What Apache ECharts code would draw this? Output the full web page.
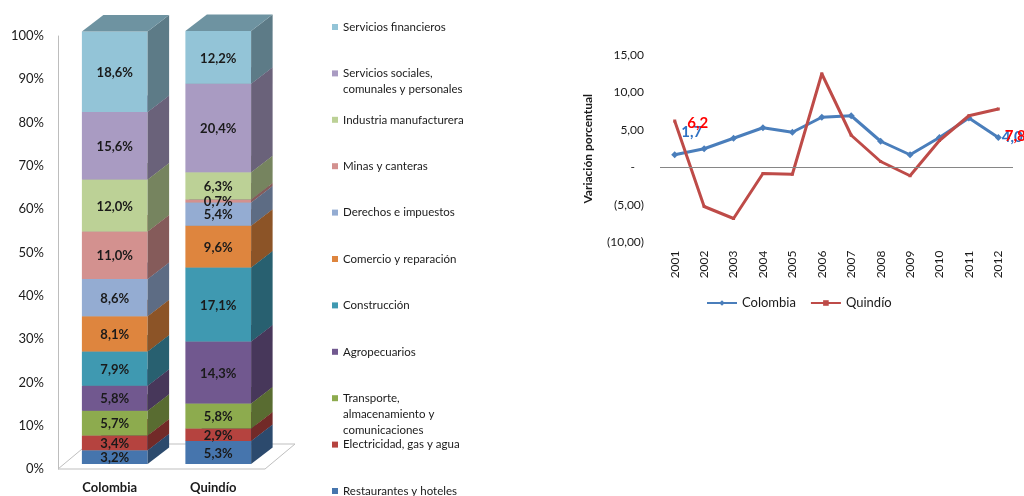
<!DOCTYPE html>
<html>
<head>
<meta charset="utf-8">
<script src="https://cdn.jsdelivr.net/npm/echarts@6/dist/echarts.min.js"></script>
<style>
  html, body { margin: 0; padding: 0; background: #ffffff; }
  #chart { width: 1024px; height: 496px; }
</style>
</head>
<body>
<div id="chart"></div>
<script>
// ---- Data -------------------------------------------------------------
const regions = ['Colombia', 'Quindío'];

// Sectors, listed from the bottom of each stack to the top
const sectors = [
  'Restaurantes y hoteles',
  'Electricidad, gas y agua',
  'Transporte, almacenamiento y comunicaciones',
  'Agropecuarios',
  'Construcción',
  'Comercio y reparación',
  'Derechos e impuestos',
  'Minas y canteras',
  'Industria manufacturera',
  'Servicios sociales, comunales y personales',
  'Servicios financieros'
];
const shareColombia = [3.2, 3.4, 5.7, 5.8, 7.9, 8.1, 8.6, 11.0, 12.0, 15.6, 18.6];
const shareQuindio  = [5.3, 2.9, 5.8, 14.3, 17.1, 9.6, 5.4, 0.7, 6.3, 20.4, 12.2];

const years = ['2001', '2002', '2003', '2004', '2005', '2006',
               '2007', '2008', '2009', '2010', '2011', '2012'];
const growthColombia = [1.7, 2.5, 3.9, 5.3, 4.7, 6.7, 6.9, 3.5, 1.7, 4.0, 6.6, 4.0];
const growthQuindio  = [6.2, -5.2, -6.8, -0.8, -0.9, 12.5, 4.3, 0.8, -1.1, 3.6, 6.9, 7.8];

// ---- Presentation -----------------------------------------------------
const FONT = 'Lato, "Liberation Sans", sans-serif';
const TEXT = '#1a1a1a';
const sectorColors = ['#4675ad', '#b5433f', '#8dab4e', '#71588f', '#3f99b1', '#de853e',
                      '#94acd2', '#d3918f', '#bcd196', '#a99bc2', '#93c4d7'];
const legendWrap = {
  'Transporte, almacenamiento y comunicaciones': ['Transporte,', 'almacenamiento y', 'comunicaciones'],
  'Servicios sociales, comunales y personales': ['Servicios sociales,', 'comunales y personales']
};
const BOX_DEPTH = [21.5, -16.5];   // receding edge of each box
const BOX_SHIFT = [5, -5];         // box front sits a little inside the floor
const FLOOR_DEPTH = [30, -25];

function shade(hex, k) {
  const n = parseInt(hex.slice(1), 16);
  const r = Math.round(((n >> 16) & 255) * k);
  const g = Math.round(((n >> 8) & 255) * k);
  const b = Math.round((n & 255) * k);
  return 'rgb(' + r + ',' + g + ',' + b + ')';
}
const pct = v => v.toFixed(1).replace('.', ',') + '%';
const dec = v => v.toFixed(1).replace('.', ',');

// cumulative base of every segment in both stacks
function stackData(k) {
  const shares = [shareColombia, shareQuindio];
  return shares.map((arr, j) => {
    let base = 0;
    for (let i = 0; i < k; i++) base += arr[i];
    return [j, base, base + arr[k], arr[k]];
  });
}

function boxRenderer(color) {
  const front = color, side = shade(color, 0.63), top = shade(color, 0.75);
  return function (params, api) {
    const cat = api.value(0);
    const lo = api.coord([cat, api.value(1)]);
    const hi = api.coord([cat, api.value(2)]);
    const band = api.size([1, 0])[0];
    const w = band * 0.635;
    const x1 = lo[0] - w / 2 + BOX_SHIFT[0];
    const x2 = x1 + w;
    const yb = lo[1] + BOX_SHIFT[1];
    const yt = hi[1] + BOX_SHIFT[1];
    const dx = BOX_DEPTH[0], dy = BOX_DEPTH[1];
    return {
      type: 'group',
      children: [
        { type: 'rect', shape: { x: x1, y: yt, width: w, height: yb - yt }, style: { fill: front } },
        { type: 'polygon', shape: { points: [[x2, yb], [x2, yt], [x2 + dx, yt + dy], [x2 + dx, yb + dy]] },
          style: { fill: side } },
        { type: 'polygon', shape: { points: [[x1, yt], [x2, yt], [x2 + dx, yt + dy], [x1 + dx, yt + dy]] },
          style: { fill: top } },
        { type: 'text', z2: 20, x: (x1 + x2) / 2, y: (yt + yb) / 2 + 1,
          style: { text: pct(api.value(3)), align: 'center', verticalAlign: 'middle',
                   font: 'bold 13px ' + FONT, fill: TEXT } }
      ]
    };
  };
}

function floorRenderer(params, api) {
  const c = api.coord([0, 0]);
  const band = api.size([1, 0])[0];
  const left = c[0] - band / 2;
  const right = left + band * regions.length;
  const y = c[1];
  const dx = FLOOR_DEPTH[0], dy = FLOOR_DEPTH[1];
  return {
    type: 'polygon',
    shape: { points: [[left, y], [right, y], [right + dx, y + dy], [left + dx, y + dy]] },
    style: { fill: '#ffffff', stroke: '#bfbfbf', lineWidth: 1 }
  };
}

// ---- Series -----------------------------------------------------------
const series = [{
  type: 'custom', name: 'piso', xAxisIndex: 0, yAxisIndex: 0, silent: true, z: 1,
  data: [[0, 0]], renderItem: floorRenderer
}];
sectors.forEach((name, k) => {
  series.push({
    type: 'custom', name: name, xAxisIndex: 0, yAxisIndex: 0, z: 2,
    itemStyle: { color: sectorColors[k] },
    encode: { x: 0, y: [1, 2] },
    data: stackData(k),
    renderItem: boxRenderer(sectorColors[k])
  });
});

const labelStyles = {
  Colombia: { color: '#2f72c4', first: [-2, -23], last: [-5, 0] },
  'Quindío': { color: '#ff0000', first: [6, 2], last: [0, 27] }
};
function lineData(values, who) {
  const st = labelStyles[who];
  return values.map((v, i) => {
    const item = { value: v };
    if (i === 0 || i === values.length - 1) {
      item.label = {
        show: true, position: 'right', formatter: p => dec(p.value),
        offset: i === 0 ? st.first : st.last,
        color: st.color, fontFamily: FONT, fontWeight: 'bold', fontSize: 15
      };
    }
    return item;
  });
}

series.push({
  type: 'line', name: 'Colombia', xAxisIndex: 1, yAxisIndex: 1, z: 3,
  data: lineData(growthColombia, 'Colombia'),
  symbol: 'diamond', symbolSize: 7,
  lineStyle: { color: '#4a7ebb', width: 3 },
  itemStyle: { color: '#4a7ebb' },
  markLine: {
    silent: true, symbol: 'none', label: { show: false },
    lineStyle: { color: '#868686', width: 1, type: 'solid' },
    data: [{ yAxis: 0 }]
  }
});
series.push({
  type: 'line', name: 'Quindío', xAxisIndex: 1, yAxisIndex: 1, z: 4,
  data: lineData(growthQuindio, 'Quindío'),
  symbol: 'rect', symbolSize: 3,
  lineStyle: { color: '#be4b48', width: 3 },
  itemStyle: { color: '#be4b48' }
});

// ---- Legends: one block per sector so every entry keeps its own row ----
const LEGEND_ROW0 = 27, LEGEND_STEP = 46.4, LEGEND_LINE = 16;
const legends = sectors.slice().reverse().map((name, p) => {
  const lines = legendWrap[name] || [name];
  const L = lines.length;
  const iconY = LEGEND_ROW0 + p * LEGEND_STEP;
  const rich = lines.map(s => '{t|' + s + '}').join('\n');
  return {
    data: [name], orient: 'vertical', left: 332,
    top: iconY - (2 * L - 1) * LEGEND_LINE / 2,
    padding: 0, itemWidth: 6, itemHeight: 6, icon: 'rect', selectedMode: false,
    formatter: () => rich,
    textStyle: {
      fontFamily: FONT, fontSize: 11.5, color: TEXT, lineHeight: LEGEND_LINE,
      padding: [(L - 1) * LEGEND_LINE, 0, 0, 0],
      rich: { t: { fontFamily: FONT, fontSize: 11.5, color: TEXT, lineHeight: LEGEND_LINE } }
    }
  };
});
legends.push({
  data: ['Colombia', 'Quindío'], orient: 'horizontal', left: 706, top: 296,
  padding: 0, itemWidth: 30, itemHeight: 7, itemGap: 14, selectedMode: false,
  textStyle: { fontFamily: FONT, fontSize: 13, color: TEXT, lineHeight: 14 }
});

function growthTick(v) {
  if (v === 0) return '{dash|-}';
  const s = Math.abs(v).toFixed(2).replace('.', ',');
  return v < 0 ? '(' + s + ')' : s;
}

const option = {
  backgroundColor: '#ffffff',
  animation: false,
  textStyle: { fontFamily: FONT },
  legend: legends,
  grid: [
    { left: 58, top: 36, width: 207, height: 433 },
    { left: 660, top: 55, width: 353, height: 187.5 }
  ],
  xAxis: [
    {
      type: 'category', gridIndex: 0, data: regions,
      axisLine: { show: false }, axisTick: { show: false },
      axisLabel: { margin: 12, fontFamily: FONT, fontSize: 13, fontWeight: 'bold', color: TEXT }
    },
    {
      type: 'category', gridIndex: 1, data: years, boundaryGap: true,
      axisLine: { show: false, onZero: false }, axisTick: { show: false },
      axisLabel: { rotate: 90, margin: 8, fontFamily: FONT, fontSize: 12, color: TEXT }
    }
  ],
  yAxis: [
    {
      type: 'value', gridIndex: 0, min: 0, max: 100, interval: 10,
      axisLine: { show: true, lineStyle: { color: '#bdbdbd' } },
      axisTick: { show: false }, splitLine: { show: false },
      axisLabel: { formatter: '{value}%', margin: 14, fontFamily: FONT, fontSize: 13, color: TEXT }
    },
    {
      type: 'value', gridIndex: 1, min: -10, max: 15, interval: 5,
      name: 'Variación porcentual', nameLocation: 'middle', nameGap: 66,
      nameTextStyle: { fontFamily: FONT, fontSize: 12, fontWeight: 'bold', color: TEXT },
      axisLine: { show: false }, axisTick: { show: false }, splitLine: { show: false },
      axisLabel: {
        formatter: growthTick, margin: 16, fontFamily: FONT, fontSize: 12, color: TEXT,
        rich: { dash: { fontFamily: FONT, fontSize: 12, color: TEXT, padding: [0, 9, 0, 0] } }
      }
    }
  ],
  series: series
};

const chart = echarts.init(document.getElementById('chart'), null, { renderer: 'canvas' });
chart.setOption(option);
</script>
</body>
</html>
